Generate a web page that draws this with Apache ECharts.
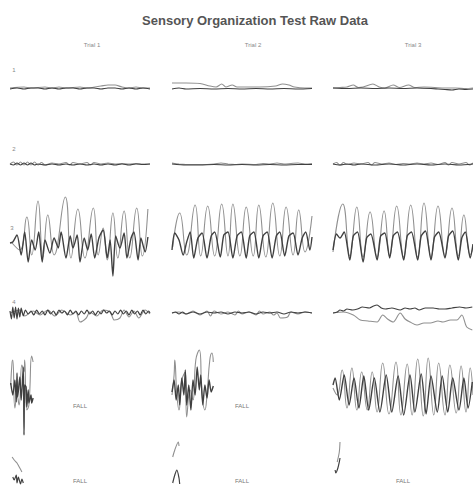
<!DOCTYPE html>
<html><head><meta charset="utf-8">
<script src="https://cdn.jsdelivr.net/npm/echarts@6/dist/echarts.min.js"></script>
<style>html,body{margin:0;padding:0;background:#fff}#c{width:473px;height:485px}</style>
</head><body><div id="c"></div>
<script>
// ---------- labels ----------
const chartTitle = 'Sensory Organization Test Raw Data';
const trialLabels = ['Trial 1', 'Trial 2', 'Trial 3'];
const conditionLabels = ['1', '2', '3', '4'];
const fallLabel = 'FALL';

// ---------- data: [time s, sway] ; L = light trace, D = dark trace ----------
// Condition 1
const r1c1L = [[0,0],[2,1],[3,0],[5,1],[6,0],[7,1],[8,0],[10,1],[11,0],[13,2],[14,3],[15,3],[16,1],[17,0],[18,1],[19,0],[20,0]];
const r1c1D = [[0,-1],[1,0],[2,-1],[3,0],[4,0],[5,-1],[6,0],[7,-1],[8,0],[9,0],[10,-1],[11,0],[12,0],[13,-1],[14,0],[15,0],[16,-1],[17,0],[18,-1],[19,0],[20,-1]];
const r1c2L = [[0,5],[2,5],[4,4.5],[5.4,2],[6.3,1],[7.1,4],[7.7,1],[8.6,3],[9.3,1],[11,1],[12.5,1],[14.8,2],[15.8,4],[16.7,3],[17.5,1],[19,0],[20,0]];
const r1c2D = [[0,-1],[1,0],[2,-1],[4,-0.5],[6,-1],[8,-0.5],[10,-1],[12,-0.5],[14,-1],[16,-0.5],[18,-1],[20,-0.5]];
const r1c3L = [[0,0],[1,0.5],[2,1],[2.9,3],[3.6,0.5],[4.3,1],[5.7,4],[6.6,1],[7.4,0],[8.6,3],[9.5,0.5],[10.8,3],[11.7,0.5],[13,1],[14.5,0.5],[16,0],[17.5,0],[19,-0.5],[20,0]];
const r1c3D = [[0,0],[2,-0.5],[4,0],[6,-0.5],[8,0],[10,-0.5],[12,0],[14,-0.5],[15,-1],[16,-1.5],[17,-2],[18,-1],[19,-1.5],[20,-1]];
// Condition 2
const r2c1L = [[0,0],[0.5,2],[1,-1],[1.5,2],[2,-1],[2.5,2],[3,-1],[3.5,2],[4,-1],[4.5,1.5],[5,-1],[6,1],[7,0],[8,1.5],[8.5,-1],[9,1.5],[10,0],[11,1.5],[11.5,-1],[12,1.5],[13,0],[14,1],[15,0],[16,0.5],[17,0],[18,0.5],[19,0],[20,0]];
const r2c1D = [[0,0],[0.5,-1],[1,1],[1.5,-1],[2,1],[2.5,-1],[3,1],[3.5,-1],[4,0],[5,-1],[6,0],[7,-1],[8,0],[9,-1],[10,0],[11,-1],[12,0],[13,-1],[14,0],[15,-1],[16,0],[17,-1],[18,0],[19,-0.5],[20,0]];
const r2c2L = [[0,1],[1,0],[2,-0.5],[4,-0.5],[6,0],[7,1],[8,0],[9,-0.5],[10,0],[12,-0.5],[13,0.5],[14,0],[15,1],[16,0],[17,0.5],[18,1],[19,0],[20,0.5]];
const r2c2D = [[0,0],[2,-1],[4,-1],[6,-0.5],[8,-1],[10,-0.5],[12,-1],[14,-0.5],[16,-1],[18,-0.5],[20,-0.5]];
const r2c3L = [[0,0],[0.5,1.5],[1,-1],[1.5,1.5],[2,-0.5],[3,1],[4,0],[5,1.5],[5.5,-1],[6,1.5],[7,0],[8,1],[9,-0.5],[10,0.5],[11,0],[12,1],[13,0],[14,1],[15,-0.5],[16,1.5],[16.5,-1],[17,1.5],[18,0],[19,1.5],[19.5,-1],[20,1]];
const r2c3D = [[0,0],[1,-1],[2,0],[3,-1],[4,0],[6,-1],[8,0],[10,-1],[12,0],[14,-1],[16,0],[18,-1],[20,0]];
// Condition 3
const r3c1L = [[0.3,-3],[1.4,-10],[2.4,23],[3.1,-15],[4.0,39],[4.7,-17],[5.4,25],[6.3,-15],[7.9,43],[8.7,-18],[9.7,31],[10.7,-18],[11.9,32],[12.6,-15],[13.3,12],[13.9,-20],[14.7,27],[15.4,-18],[16.3,29],[17.1,-18],[18.1,32],[18.9,-16],[19.7,31]];
const r3c1D = [[0,-3],[0.4,-2],[1.0,5],[1.6,-15],[2.1,8],[2.6,-22],[3.1,0],[3.6,-10],[4.1,8],[4.6,-22],[5.0,0],[5.7,-13],[6.3,2],[6.9,-8],[7.3,8],[8.0,-18],[8.6,4],[9.0,-8],[9.6,5],[10.0,-22],[10.6,2],[11.1,-10],[11.6,6],[12.1,-18],[12.7,2],[13.3,10],[13.9,-18],[14.3,0],[14.7,-36],[15.1,4],[15.7,-8],[16.3,7],[16.7,-18],[17.3,2],[17.7,8],[18.3,-20],[18.7,2],[19.3,-12],[19.7,3]];
const r3c2L = [[0.1,-7],[1.1,27],[2.1,-15],[3.3,35],[4.1,-16],[5.1,34],[6.1,-16],[7.1,36],[8.0,-16],[8.7,36],[9.7,-16],[10.6,33],[11.6,-16],[12.4,35],[13.4,-17],[14.4,37],[15.4,-16],[16.3,33],[17.3,-15],[18.1,30],[19.0,-12],[20.0,24]];
const r3c2D = [[0,-10],[0.4,7],[1.0,0],[1.6,-15],[2.1,-2],[2.6,8],[3.1,-18],[3.7,2],[4.3,7],[5.0,-18],[5.6,4],[6.1,8],[6.9,-17],[7.4,5],[8.0,8],[8.7,-18],[9.3,4],[9.9,8],[10.6,-18],[11.1,4],[11.7,8],[12.4,-18],[13.0,4],[13.6,8],[14.3,-18],[14.9,4],[15.4,8],[16.1,-16],[16.7,4],[17.3,7],[18.0,-15],[18.6,2],[19.1,8],[19.7,-10],[20,3]];
const r3c3L = [[0,-12],[1.4,36],[2.4,-16],[3.4,33],[4.3,-17],[5.3,28],[6.3,-17],[7.3,29],[8.1,-16],[9.1,34],[10.1,-17],[11.1,35],[12.1,-17],[13.0,37],[14.0,-17],[15.0,34],[16.0,-16],[17.0,32],[17.9,-16],[18.7,25],[19.6,-15],[20,-8]];
const r3c3D = [[0,-10],[0.5,6],[1.0,2],[1.6,8],[2.4,-20],[2.9,4],[3.5,8],[4.3,-22],[4.8,2],[5.4,6],[6.3,-20],[6.8,4],[7.4,7],[8.1,-18],[8.6,4],[9.2,8],[10.1,-20],[10.6,4],[11.2,8],[12.1,-20],[12.6,4],[13.2,9],[14.0,-20],[14.5,3],[15.1,8],[16.0,-18],[16.5,4],[17.1,9],[17.9,-20],[18.4,2],[18.9,8],[19.6,-18],[20,-4]];
// Condition 4
const r4c1L = [[0,0],[1.4,3],[2.1,-3],[3.3,2],[4.3,-2],[5.4,3],[6.4,-3],[7.4,3],[8.6,-2],[9.4,1],[10.0,-9],[10.9,-5],[11.4,1],[12.4,-3],[13.3,3],[14.3,1],[14.9,-7],[15.7,-5],[16.3,3],[17.0,-4],[17.7,2],[18.4,-5],[19.3,3],[20,-1]];
const r4c1D = [[0,2],[0.2,-6],[0.4,6],[0.6,-5],[0.8,6],[1.0,-6],[1.2,5],[1.4,-4],[1.6,5],[1.9,-3],[2.2,3],[2.6,-1],[3.0,2],[3.4,-2],[3.8,3],[4.2,-1],[4.6,2],[5.0,-2],[5.4,3],[5.8,-1],[6.2,2],[6.6,-2],[7.0,3],[7.4,0],[7.8,2],[8.2,-2],[8.6,3],[9.0,-1],[9.4,2],[9.8,-2],[10.2,2],[10.6,-1],[11.0,3],[11.4,-1],[11.8,2],[12.2,-2],[12.6,2],[13.0,-1],[13.4,3],[13.8,0],[14.2,2],[14.6,-2],[15.0,2],[15.4,-1],[15.8,3],[16.2,-1],[16.6,2],[17.0,-2],[17.4,3],[17.8,-1],[18.2,2],[18.6,-2],[19.0,3],[19.4,-1],[19.8,2],[20,0]];
const r4c2L = [[0,0],[1,1],[2,-1],[3,2],[4,-2],[5,2],[5.5,-3],[6,2],[7,-1],[8,1],[9,-2],[9.5,2],[10,-1],[11,1],[12,-2],[12.5,2],[13,-1],[14,1],[14.5,-2],[15,0],[15.5,-5],[16.5,-4],[17,1],[18,-1],[19,1],[20,0]];
const r4c2D = [[0,0],[0.5,1],[1,-1],[1.5,1],[2,-1],[3,1],[4,-1],[5,1],[6,0],[7,1],[8,-1],[9,1],[10,0],[11,1],[12,-1],[13,1],[14,0],[15,1],[16,-1],[17,1],[18,0],[19,1],[20,0]];
const r4c3L = [[0,0],[1.5,1],[2.9,-2],[3.9,-7],[5.0,-8],[6.3,-9],[7.1,-2],[7.8,-6],[8.6,-9],[9.6,0],[10.3,-6],[11.0,-9],[12.0,-12],[13.0,-10],[13.9,-10],[15.0,-8],[15.7,-9],[16.8,-7],[17.7,-7],[18.4,-2],[19.1,-14],[19.9,-17]];
const r4c3D = [[0,0],[0.6,1],[1.0,3],[1.5,2],[2.0,4],[2.8,3],[3.5,4],[4.2,6],[5.2,5],[5.8,7],[6.3,8],[6.9,5],[7.5,4],[8.4,5],[9.6,3],[10.3,5],[11.0,4],[11.7,5],[12.3,3],[13.2,5],[14.3,5],[15.2,4],[16.0,4],[17.0,5],[18.1,6],[19.0,5],[19.9,6]];
// Condition 5 (trials 1 and 2 end in a fall)
const r5c1L = [[0.1,0],[0.3,23],[0.4,25],[0.7,-23],[1.0,-10],[1.3,-20],[1.7,20],[2.0,13],[2.1,25],[2.4,-25],[2.7,-20],[3.1,29],[3.3,23]];
const r5c1D = [[0.1,2],[0.4,-10],[0.7,5],[0.9,-17],[1.0,12],[1.1,-12],[1.4,8],[1.6,-15],[1.9,18],[2.0,-50],[2.1,0],[2.3,-2],[2.4,-22],[2.6,-5],[2.7,-18],[3.0,-10],[3.1,-18],[3.3,-13]];
const r5c2L = [[0,-10],[0.3,10],[0.4,25],[0.7,-10],[1.0,-25],[1.4,5],[1.9,13],[2.1,-32],[2.6,-5],[3.0,-15],[3.4,25],[3.9,35],[4.3,-10],[4.7,-25],[5.0,-10],[5.4,25],[5.7,32],[5.9,23]];
const r5c2D = [[0,-7],[0.3,5],[0.6,-15],[0.9,0],[1.1,-20],[1.4,7],[1.7,-10],[1.9,15],[2.1,-20],[2.4,0],[2.7,-25],[3.0,5],[3.3,-10],[3.6,18],[3.9,-5],[4.1,10],[4.4,-20],[4.7,0],[5.0,-13],[5.3,5],[5.6,-7],[5.9,-1]];
const r5c3L = [[0,-3],[0.6,-10],[1.3,15],[2.0,-23],[2.7,17],[3.4,-25],[4.1,13],[4.9,-25],[5.6,13],[6.3,-27],[7.1,22],[8.0,-29],[9.0,23],[9.7,-30],[10.6,21],[11.3,-30],[12.1,26],[12.9,-31],[13.6,27],[14.4,-30],[15.1,22],[16.0,-30],[16.7,20],[17.6,-28],[18.3,19],[19.0,-27],[19.6,17],[20,-10]];
const r5c3D = [[0,0],[0.3,7],[0.9,-15],[1.6,10],[2.3,-20],[3.0,7],[3.7,-23],[4.4,9],[5.1,-25],[5.9,7],[6.7,-27],[7.6,10],[8.4,-27],[9.3,9],[10.1,-30],[11.0,10],[11.7,-27],[12.6,11],[13.3,-29],[14.0,9],[14.9,-27],[15.6,9],[16.4,-27],[17.1,7],[18.0,-25],[18.7,7],[19.3,-23],[19.9,3]];
// Condition 6 (all trials end in a fall)
const r6c1L = [[0.3,8],[0.6,5],[1.0,2],[1.4,-3],[1.7,-7]];
const r6c1D = [[0.4,-12],[0.6,-15],[0.9,-10],[1.0,-18],[1.2,-12],[1.5,-19],[1.7,-14],[1.9,-18]];
const r6c2L = [[0.1,8],[0.4,15],[0.9,23],[1.0,19]];
const r6c2D = [[0.1,-18],[0.4,-10],[0.7,-5],[1.0,-13],[1.1,-19]];
const r6c3L = [[0.6,3],[0.9,13],[1.0,23]];
const r6c3D = [[0.3,-5],[0.4,-8],[0.7,-3],[0.9,3],[1.0,7]];

const fallCells = [[4,0],[4,1],[5,0],[5,1],[5,2]];

const cells = [
  [[r1c1L,r1c1D],[r1c2L,r1c2D],[r1c3L,r1c3D]],
  [[r2c1L,r2c1D],[r2c2L,r2c2D],[r2c3L,r2c3D]],
  [[r3c1L,r3c1D],[r3c2L,r3c2D],[r3c3L,r3c3D]],
  [[r4c1L,r4c1D],[r4c2L,r4c2D],[r4c3L,r4c3D]],
  [[r5c1L,r5c1D],[r5c2L,r5c2D],[r5c3L,r5c3D]],
  [[r6c1L,r6c1D],[r6c2L,r6c2D],[r6c3L,r6c3D]]
];

// ---------- layout ----------
const colLeft = [10, 172, 333];
const cellW = 140;
const rowCenter = [88, 164, 240, 313, 385, 465];
const rowHalf = [20, 20, 50, 20, 50, 20];
const lightColor = '#909090';
const darkColor = '#404040';
const font = 'Liberation Sans, Arial, sans-serif';

const grid = [], xAxis = [], yAxis = [], series = [];
let gi = 0;
for (let r = 0; r < 6; r++) {
  for (let c = 0; c < 3; c++) {
    const h = rowHalf[r];
    grid.push({left: colLeft[c], top: rowCenter[r] - h, width: cellW, height: h * 2, outerBoundsMode: 'none', containLabel: false});
    xAxis.push({type: 'value', gridIndex: gi, min: 0, max: 20, show: false});
    yAxis.push({type: 'value', gridIndex: gi, min: -h, max: h, show: false});
    const big = r === 2 || r === 4;
    series.push({type: 'line', xAxisIndex: gi, yAxisIndex: gi, data: cells[r][c][0], showSymbol: false,
      smooth: big ? 0.5 : 0.3, lineStyle: {color: lightColor, width: 1.1}, z: 2, silent: true, clip: false});
    series.push({type: 'line', xAxisIndex: gi, yAxisIndex: gi, data: cells[r][c][1], showSymbol: false,
      smooth: big ? 0.25 : 0.25, lineStyle: {color: darkColor, width: big ? 1.4 : 1.2}, z: 3, silent: true, clip: false});
    gi++;
  }
}

const graphic = [];
function txt(text, x, y, size, color, weight) {
  graphic.push({type: 'text', x: x, y: y, silent: true, style: {
    text: text, fill: color, font: (weight || 'normal') + ' ' + size + 'px ' + font,
    textAlign: 'center', textVerticalAlign: 'middle', align: 'center', verticalAlign: 'middle'}});
}
txt(chartTitle, 255, 20, 13, '#555555', 'bold');
const trialX = [92, 253, 413];
trialLabels.forEach((t, i) => txt(t, trialX[i], 45, 6, '#888888'));
const condPos = [[14, 70], [14, 149], [12, 228], [14, 302]];
conditionLabels.forEach((t, i) => txt(t, condPos[i][0], condPos[i][1], 6, '#888888'));
const fallY = {4: 406, 5: 481};
fallCells.forEach(([r, c]) => txt(fallLabel, colLeft[c] + 70, fallY[r], 6, '#777777'));

const chart = echarts.init(document.getElementById('c'), null, {renderer: 'svg'});
chart.setOption({animation: false, backgroundColor: '#ffffff', grid, xAxis, yAxis, series, graphic});
</script></body></html>
